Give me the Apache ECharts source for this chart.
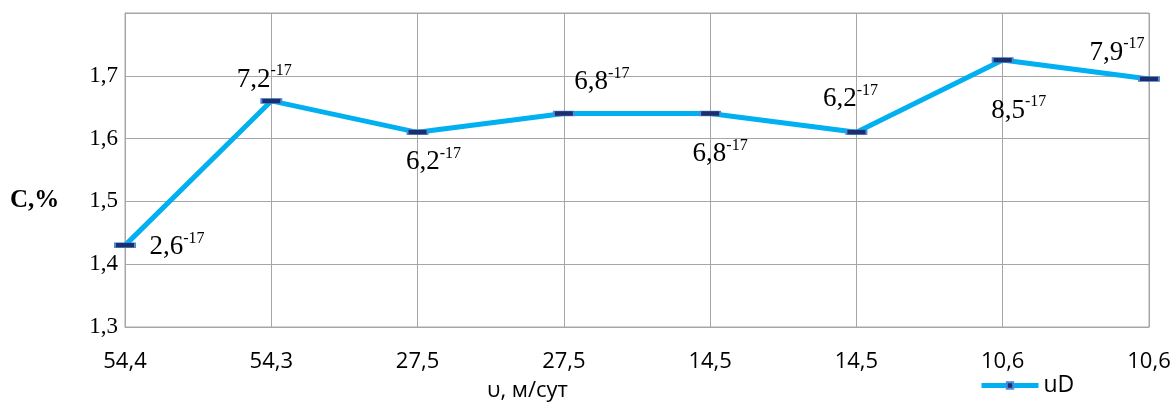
<!DOCTYPE html>
<html>
<head>
<meta charset="utf-8">
<script src="https://cdn.jsdelivr.net/npm/echarts@6/dist/echarts.min.js"></script>
<style>
html,body{margin:0;padding:0;background:#fff;}
#main{width:1175px;height:403px;}
</style>
</head>
<body>
<div id="main"></div>
<script>
// Data
var categories = ['54,4', '54,3', '27,5', '27,5', '14,5', '14,5', '10,6', '10,6'];
var values = [1.43, 1.66, 1.61, 1.64, 1.64, 1.61, 1.725, 1.695];
var labelBase = ['2,6', '7,2', '6,2', '6,8', '6,8', '6,2', '8,5', '7,9'];
var labelExp = ['-17', '-17', '-17', '-17', '-17', '-17', '-17', '-17'];
var seriesName = 'uD';
var yTicks = [1.3, 1.4, 1.5, 1.6, 1.7];

// Layout (label offsets relative to points)
var labelOffsets = [[52, 0], [-7, -23], [16, 28], [38, -33], [10, 39], [-6, -35], [16, 49], [-32, -28]];

var serif = 'Liberation Serif';
var sans = 'Open Sans';

var seriesData = values.map(function (v, i) {
  return {
    value: v,
    label: {
      show: true,
      position: 'inside',
      offset: labelOffsets[i],
      formatter: '{m|' + labelBase[i] + '}{s|' + labelExp[i] + '}'
    }
  };
});

var chart = echarts.init(document.getElementById('main'), null, {renderer: 'canvas'});
chart.setOption({
  animation: false,
  backgroundColor: '#fff',
  grid: {
    left: 125, right: 26, top: 13, bottom: 76,
    show: true, borderColor: '#A6A6A6', borderWidth: 1
  },
  legend: {
    show: true,
    left: 974, top: 369,
    itemWidth: 57, itemHeight: 8, itemGap: 4,
    lineStyle: {width: 5, color: '#00B0F0'},
    textStyle: {fontFamily: sans, fontSize: 23, color: '#000'},
    data: [seriesName]
  },
  xAxis: {
    type: 'category',
    data: categories,
    boundaryGap: false,
    axisLine: {show: true, lineStyle: {color: '#A6A6A6', width: 1}},
    axisTick: {show: false},
    splitLine: {show: true, lineStyle: {color: '#A6A6A6', width: 1}},
    axisLabel: {
      interval: 0, margin: 24,
      fontFamily: sans, fontSize: 22, color: '#000'
    }
  },
  yAxis: {
    type: 'value',
    min: 1.3, max: 1.8, interval: 0.1,
    axisLine: {show: true, lineStyle: {color: '#A6A6A6', width: 1}},
    axisTick: {show: false},
    splitLine: {show: true, lineStyle: {color: '#A6A6A6', width: 1}},
    axisLabel: {
      margin: 7,
      fontFamily: serif, fontSize: 23, color: '#000',
      formatter: function (v) {
        var r = Math.round(v * 10) / 10;
        for (var i = 0; i < yTicks.length; i++) {
          if (Math.abs(yTicks[i] - r) < 1e-6) return r.toFixed(1).replace('.', ',');
        }
        return '';
      }
    }
  },
  graphic: [
    {
      type: 'text', left: 10, top: 188,
      style: {text: 'C,%', font: 'bold 25px "Liberation Serif"', fill: '#000'}
    },
    {
      type: 'text', left: 487, top: 380,
      style: {text: 'υ, м/сут', font: '22px "Open Sans"', fill: '#000'}
    }
  ],
  series: [{
    name: seriesName,
    type: 'line',
    data: seriesData,
    symbol: 'rect',
    symbolSize: [20, 5],
    showAllSymbol: true,
    lineStyle: {color: '#00B0F0', width: 5},
    itemStyle: {color: '#1B2F6E', borderColor: '#4F8BD8', borderWidth: 1},
    label: {
      show: true,
      align: 'center',
      verticalAlign: 'middle',
      rich: {
        m: {fontFamily: serif, fontSize: 27, color: '#000', lineHeight: 30, verticalAlign: 'bottom'},
        s: {fontFamily: serif, fontSize: 16, color: '#000', lineHeight: 30, verticalAlign: 'top'}
      }
    },
    emphasis: {disabled: true},
    z: 3
  }]
});
</script>
</body>
</html>
